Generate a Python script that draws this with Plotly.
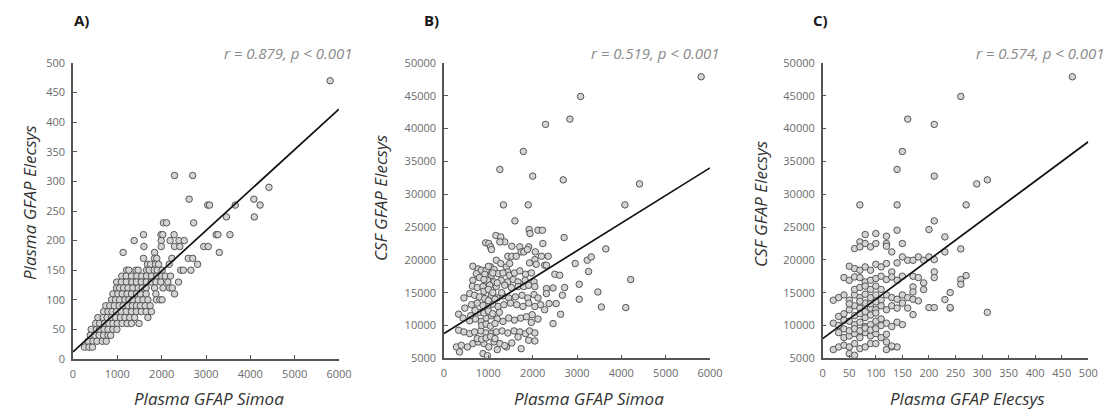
import plotly.graph_objects as go

# ---------------- Panel A: Plasma GFAP Simoa vs Plasma GFAP Elecsys ----------------
a_rows = {
    470: [5800],
    310: [2290, 2700],
    290: [4420],
    270: [2620, 4080],
    260: [3040, 3080, 3660, 4220],
    240: [3460, 4090],
    230: [2040, 2110, 2720],
    210: [1590, 1985, 2025, 2280, 3230, 3270, 3540],
    200: [1380, 1990, 2190, 2390, 2510],
    190: [1600, 1990, 2290, 2410, 2950, 3050],
    180: [1130, 1840, 3300],
    170: [1590, 1840, 1890, 2230, 2600, 2700],
    160: [1680, 1750, 1860, 1930, 2170, 2810],
    150: [1210, 1260, 1420, 1470, 1660, 1720, 1830, 1900, 2010, 2430, 2490, 2660],
    140: [1100, 1200, 1320, 1440, 1550, 1660, 1770, 1890, 2000, 2080, 2200],
    130: [985, 1090, 1200, 1330, 1430, 1540, 1650, 1770, 1870, 1980, 2140, 2380],
    120: [980, 1050, 1140, 1240, 1350, 1470, 1560, 1650, 1840, 2030, 2180, 2240],
    110: [900, 1010, 1110, 1220, 1320, 1430, 1520, 1650, 1870, 2290],
    100: [870, 960, 1050, 1170, 1260, 1350, 1470, 1580, 1690, 1880, 1960, 2010],
    90: [740, 830, 930, 1040, 1130, 1240, 1340, 1430, 1520, 1630, 1740],
    80: [690, 790, 880, 980, 1090, 1200, 1320, 1430, 1540, 1650, 1770],
    70: [560, 680, 770, 870, 960, 1070, 1170, 1280, 1390, 1690],
    60: [510, 600, 710, 810, 900, 1000, 1110, 1220, 1320, 1490],
    50: [410, 530, 600, 700, 790, 900, 990],
    40: [390, 490, 590, 690, 790, 850],
    30: [340, 450, 540, 660, 750],
    20: [260, 360, 440],
}
a_simoa = [x for y, xs in a_rows.items() for x in xs]
a_elecsys = [y for y, xs in a_rows.items() for x in xs]
a_fit_x = [0, 6000]
a_fit_y = [12, 422]

# ---------------- Panel B: Plasma GFAP Simoa vs CSF GFAP Elecsys ----------------
b_pairs = [
    (5800, 47900), (3080, 44900), (2840, 41450), (2290, 40640), (1790, 36520), (1260, 33780),
    (2000, 32760), (2690, 32190), (4410, 31580), (1340, 28380), (1900, 28380), (4080, 28380),
    (1600, 25940), (3650, 21670), (2960, 19440), (3230, 19950), (3320, 20450), (3260, 18220),
    (4210, 17000), (3050, 16280), (3050, 14000), (3470, 15110), (3550, 12820), (4100, 12730),
    (1920, 24620), (1940, 24010), (2120, 24520), (2220, 24520), (1170, 23720), (1280, 23500),
    (1370, 22740), (1260, 22740), (940, 22590), (1010, 22490), (1050, 21980), (1070, 21570),
    (1530, 22080), (1710, 21980), (1910, 21980), (1740, 21215), (2230, 22490), (2710, 23400),
    (1440, 20550), (1530, 20550), (1630, 20550), (1800, 21215), (1880, 21570), (2060, 21215),
    (2200, 20550), (2350, 20550), (1180, 19940), (1280, 19440), (1410, 18930), (1440, 18170),
    (1480, 19440), (1930, 19540), (2050, 20040), (2080, 19330), (2270, 19180), (2310, 19180),
    (650, 19030), (770, 18620), (840, 18420), (950, 18420), (1050, 18930), (1130, 18520),
    (730, 17900), (920, 17800), (1070, 17650), (1220, 17900), (1330, 18000), (1480, 17650),
    (1590, 18000), (1710, 18320), (1840, 17810), (1970, 18010), (2500, 17810), (2610, 17660),
    (650, 16890), (800, 17300), (980, 16890), (1130, 16640), (1290, 16890), (1440, 16640),
    (1560, 17000), (1670, 16640), (1830, 16890), (2030, 16640),
    (640, 16000), (750, 15780), (880, 15930), (1030, 16130), (1180, 15930), (1370, 16130),
    (1520, 15780), (1670, 15930), (1800, 15930), (1910, 16130), (2050, 15930), (2310, 15620),
    (2720, 15780),
    (450, 14200), (580, 14860), (690, 14610), (800, 14350), (920, 14100), (1070, 14610),
    (1200, 14200), (1330, 14500), (1460, 14200), (1610, 14350), (1760, 14610), (1890, 14200),
    (2030, 14710), (2120, 14200), (2310, 14860), (2460, 15720), (2670, 14610),
    (330, 11730), (470, 12650), (620, 13160), (750, 13410), (880, 13060), (990, 12650),
    (1100, 13260), (1220, 12900), (1350, 13160), (1500, 13410), (1640, 13160), (1780, 12900),
    (1910, 13410), (2050, 12900), (2180, 13160), (2270, 12400), (2370, 13340), (2530, 13340),
    (2460, 10290), (2630, 11710),
    (430, 11130), (580, 10720), (710, 10980), (840, 10620), (950, 11130), (1070, 11480),
    (1200, 10980), (1330, 10620), (1460, 11130), (1590, 10820), (1730, 11130), (1860, 11330),
    (1990, 11640), (2120, 10980), (1970, 10470),
    (330, 9270), (450, 9020), (580, 8760), (690, 9020), (830, 9170), (950, 8860), (1070, 8760),
    (1180, 9020), (1310, 9170), (1440, 8860), (1580, 9170), (1710, 9020), (1840, 8760),
    (1930, 9170), (2050, 8860),
    (280, 6730), (390, 6980), (530, 6730), (650, 7240), (770, 7490), (900, 7240), (1010, 6730),
    (1130, 7490), (1260, 7240), (1410, 6730), (1530, 7340), (1670, 8250), (1910, 7750),
    (1740, 6470), (2050, 7640), (350, 5970), (880, 5710), (980, 5400), (1200, 6320), (1370, 6930),
    (800, 12000), (900, 11900), (1000, 12200), (1100, 11800), (850, 10000), (950, 10200),
    (1050, 9900), (1150, 10300), (900, 15200), (1000, 15500), (1100, 15000), (750, 8000),
    (850, 7900), (950, 8100), (1050, 8300), (1150, 8000), (1000, 13800), (1150, 14000),
    (700, 12300), (600, 11500), (1250, 12000), (1300, 15000), (1200, 16500), (900, 17000),
    (1000, 19000), (1100, 18000),
]
b_simoa = [p[0] for p in b_pairs]
b_csf = [p[1] for p in b_pairs]
b_fit_x = [0, 6000]
b_fit_y = [8770, 34020]

# ---------------- Panel C: Plasma GFAP Elecsys vs CSF GFAP Elecsys ----------------
c_pairs = [
    (470, 47900), (260, 44900), (160, 41450), (210, 40640), (150, 36520), (140, 33780),
    (210, 32760), (290, 31580), (310, 32190), (70, 28380), (140, 28380), (270, 28380),
    (210, 25940), (260, 21670), (260, 17000), (260, 16280), (270, 17600), (240, 15020),
    (240, 12670), (310, 12000),
    (80, 23860), (100, 24010), (120, 23600), (140, 24520), (70, 22740), (80, 22490),
    (90, 21980), (100, 22490), (60, 21720), (70, 21980), (120, 22490), (120, 22080),
    (130, 21215), (150, 22490), (200, 24620), (230, 23500), (230, 21215),
    (50, 19030), (60, 18670), (70, 18420), (80, 18930), (90, 18420), (100, 19330),
    (110, 18930), (120, 19440), (130, 18170), (140, 19540), (150, 20450),
    (160, 19940), (170, 19940), (180, 20450), (190, 19940), (200, 20450), (210, 20040),
    (210, 18170), (210, 17300), (190, 16490), (190, 15470), (170, 17510), (180, 17300),
    (40, 17300), (50, 16890), (60, 17400), (70, 17300), (80, 16640), (90, 16890),
    (100, 17150), (110, 17510), (120, 17000), (130, 17400), (140, 16890), (150, 17510),
    (20, 13850), (30, 14250), (40, 14660), (50, 13850), (60, 14660), (70, 14250),
    (80, 14760), (90, 14250), (100, 14660), (110, 13850), (120, 14660), (130, 14250),
    (140, 14000), (150, 14660), (160, 14250), (170, 14000), (180, 13750),
    (200, 12730), (210, 12730), (230, 13950), (240, 12730), (170, 15880), (170, 15110),
    (170, 11660),
    (30, 11380), (40, 11780), (50, 12400), (60, 13000), (70, 12650), (80, 13410),
    (90, 12650), (100, 12400), (110, 13000), (120, 12400), (130, 13000), (140, 12650),
    (150, 13410), (160, 12650),
    (20, 10350), (30, 9990), (40, 9480), (50, 10650), (60, 10140), (70, 10500),
    (80, 9840), (90, 10140), (100, 10650), (110, 9990), (120, 10350), (130, 9840),
    (140, 10500), (150, 10140),
    (30, 8910), (40, 8150), (50, 8400), (60, 8760), (70, 8150), (80, 8910), (90, 8400),
    (100, 8760), (110, 8150), (120, 8660),
    (20, 6330), (30, 6730), (40, 6980), (50, 6730), (60, 7240), (70, 6470), (80, 6730),
    (90, 7240), (100, 7240), (120, 6330), (130, 6730), (140, 6730),
    (50, 5710), (60, 5460), (120, 7490), (130, 6880),
    (60, 11500), (70, 11800), (80, 11200), (90, 11600), (50, 9200), (60, 9500), (70, 9200),
    (80, 9600), (90, 9300), (100, 9500), (60, 15500), (70, 15800), (80, 16000), (90, 15500),
    (100, 16000), (110, 15500), (40, 10800), (50, 13300), (80, 12100), (70, 13700),
    (90, 13300), (100, 11900), (100, 13600), (110, 11000),
]
c_elecsys = [p[0] for p in c_pairs]
c_csf = [p[1] for p in c_pairs]
c_fit_x = [0, 500]
c_fit_y = [8000, 38000]

panel_labels = ["A)", "B)", "C)"]
stats_text = ["r = 0.879, p < 0.001", "r = 0.519, p < 0.001", "r = 0.574, p < 0.001"]
x_titles = ["Plasma GFAP Simoa", "Plasma GFAP Simoa", "Plasma GFAP Elecsys"]
y_titles = ["Plasma GFAP Elecsys", "CSF GFAP Elecsys", "CSF GFAP Elecsys"]

# The page body has an 8px default margin, so the figure is 8px smaller than the window
# and every page-pixel position below is shifted by that offset.
OFF = 8
W, H = 1112 - OFF, 416 - OFF
FONT = "Open Sans"


def fx(px):
    return (px - OFF) / W


def fy(py):
    return 1 - (py - OFF) / H


marker = dict(size=6.5, color="#d4d4d4", line=dict(color="#555555", width=1))
fig = go.Figure()
datasets = [
    (a_simoa, a_elecsys, a_fit_x, a_fit_y),
    (b_simoa, b_csf, b_fit_x, b_fit_y),
    (c_elecsys, c_csf, c_fit_x, c_fit_y),
]
for i, (xs, ys, lx, ly) in enumerate(datasets):
    ax = "" if i == 0 else str(i + 1)
    fig.add_trace(go.Scatter(x=xs, y=ys, mode="markers", marker=marker, xaxis="x" + ax,
                             yaxis="y" + ax, showlegend=False, cliponaxis=False))
    fig.add_trace(go.Scatter(x=lx, y=ly, mode="lines", line=dict(color="#111111", width=1.7),
                             xaxis="x" + ax, yaxis="y" + ax, showlegend=False))

# page-pixel geometry of the plot areas
px_left = [73, 444, 822.7]
px_right = [339, 710, 1088.3]
px_top = 63
px_bottom = [359, 358.3, 358.3]

axis_common = dict(showline=True, linecolor="#555555", linewidth=1.5, ticks="inside",
                   ticklen=4, tickwidth=1, tickcolor="#555555", showgrid=False,
                   zeroline=False, tickformat="d", automargin=False,
                   tickfont=dict(family=FONT, size=11, color="#6b6b6b"))
x_ranges = [[0, 6000], [0, 6000], [0, 500]]
x_dticks = [1000, 1000, 50]
y_ranges = [[0, 500], [5000, 50000], [5000, 50000]]
y_dticks = [50, 5000, 5000]

layout = dict(width=W, height=H, margin=dict(l=0, r=0, t=0, b=0, pad=0, autoexpand=False),
              paper_bgcolor="white", plot_bgcolor="white", showlegend=False)
for i in range(3):
    ax = "" if i == 0 else str(i + 1)
    layout["xaxis" + ax] = dict(axis_common, domain=[fx(px_left[i]), fx(px_right[i])],
                                range=x_ranges[i], tick0=0, dtick=x_dticks[i],
                                anchor="y" + ax, ticklabelstandoff=4)
    layout["yaxis" + ax] = dict(axis_common, domain=[fy(px_bottom[i]), fy(px_top)],
                                range=y_ranges[i], tick0=y_ranges[i][0], dtick=y_dticks[i],
                                anchor="x" + ax, ticklabelstandoff=4)

annotations = []
label_x = [81, 431, 820]
stats_right = [355, 722, 1107]
ytitle_x = [29, 380, 760]
ytitle_y = [203, 198, 204]
xtitle_x = [209, 589, 967]
for i in range(3):
    annotations.append(dict(text="<b>" + panel_labels[i] + "</b>", x=fx(label_x[i]), y=fy(20),
                            xref="paper", yref="paper", xanchor="center", yanchor="middle",
                            showarrow=False, font=dict(family=FONT, size=15, color="#1a1a1a")))
    annotations.append(dict(text="<i>" + stats_text[i] + "</i>", x=fx(stats_right[i]), y=fy(53),
                            xref="paper", yref="paper", xanchor="right", yanchor="middle",
                            showarrow=False, font=dict(family=FONT, size=15, color="#8a8a8a")))
    annotations.append(dict(text="<i>" + y_titles[i] + "</i>", x=fx(ytitle_x[i]), y=fy(ytitle_y[i]),
                            xref="paper", yref="paper", xanchor="center", yanchor="middle",
                            textangle=-90, showarrow=False,
                            font=dict(family=FONT, size=17, color="#333333")))
    annotations.append(dict(text="<i>" + x_titles[i] + "</i>", x=fx(xtitle_x[i]), y=fy(398),
                            xref="paper", yref="paper", xanchor="center", yanchor="middle",
                            showarrow=False, font=dict(family=FONT, size=17, color="#333333")))
layout["annotations"] = annotations

fig.update_layout(**layout)
fig.write_html("out.html")
